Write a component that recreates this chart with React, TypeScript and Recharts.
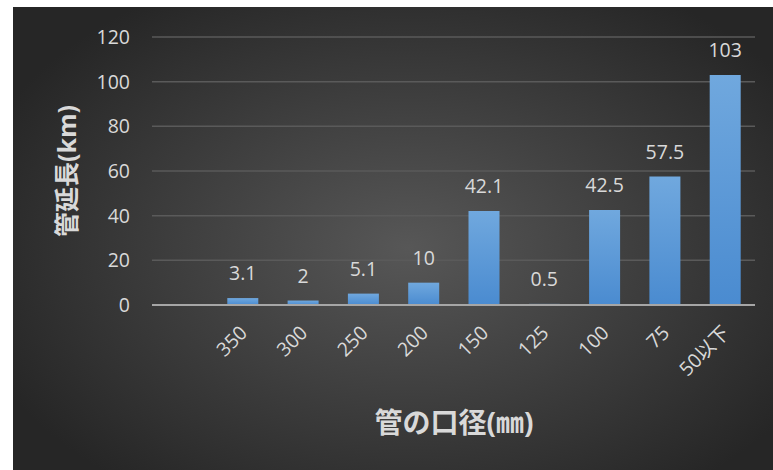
import { Bar, BarChart, CartesianGrid, XAxis, YAxis, LabelList } from 'recharts'

// 口径別の管延長
const diameters = ['', '350', '300', '250', '200', '150', '125', '100', '75', '50以下']
const lengths: (number | null)[] = [null, 3.1, 2, 5.1, 10, 42.1, 0.5, 42.5, 57.5, 103]
const yTicks = [0, 20, 40, 60, 80, 100, 120]

const chartData = diameters.map((d, i) => ({ name: d, length: lengths[i] }))

const FONT = '"Open Sans", "Noto Sans CJK JP", sans-serif'
const TEXT = '#d9d9d9'

const XTick = ({ x, y, payload }: any) => (
  <text
    x={x + 6}
    y={y + 21}
    transform={`rotate(-45 ${x + 6} ${y + 21})`}
    textAnchor="end"
    fill={TEXT}
    fontSize={19.5}
    fontFamily={FONT}
  >
    {payload.value}
  </text>
)

const YTick = ({ x, y, payload }: any) => (
  <text x={x - 14} y={y} dy={7} textAnchor="end" fill={TEXT} fontSize={19.5} fontFamily={FONT}>
    {payload.value}
  </text>
)

export default function App() {
  return (
    <div
      style={{
        position: 'absolute',
        left: 13,
        top: 7,
        width: 760,
        height: 463,
        background: 'radial-gradient(ellipse 60% 65% at 52% 52%, #575757 0%, #3c3c3c 55%, #262626 100%)',
      }}
    >
      <BarChart
        width={760}
        height={463}
        data={chartData}
        margin={{ top: 30, right: 18, left: 0, bottom: 0 }}
        barCategoryGap={0}
      >
        <defs>
          <linearGradient id="barFill" x1="0" y1="0" x2="0" y2="1">
            <stop offset="0%" stopColor="#70a8de" />
            <stop offset="100%" stopColor="#4a8bd0" />
          </linearGradient>
        </defs>
        <CartesianGrid vertical={false} stroke="#5a5a5a" strokeWidth={1.5} />
        <XAxis
          dataKey="name"
          height={165}
          interval={0}
          tickLine={false}
          axisLine={{ stroke: '#a6a6a6', strokeWidth: 2 }}
          tick={<XTick />}
        />
        <YAxis
          width={139}
          domain={[0, 120]}
          ticks={yTicks}
          tickLine={false}
          axisLine={false}
          tick={<YTick />}
        />
        <Bar dataKey="length" fill="url(#barFill)" barSize={31} isAnimationActive={false}>
          <LabelList
            dataKey="length"
            position="top"
            offset={18}
            fill={TEXT}
            fontSize={19.5}
            fontFamily={FONT}
          />
        </Bar>
        <text
          x={53}
          y={164}
          transform="rotate(-90 53 164)"
          textAnchor="middle"
          dominantBaseline="central"
          fill={TEXT}
          fontSize={25}
          fontWeight="bold"
          fontFamily={FONT}
        >
          管延長(km)
        </text>
        <text
          x={441}
          y={415}
          textAnchor="middle"
          dominantBaseline="central"
          fill={TEXT}
          fontSize={28}
          fontWeight="bold"
          fontFamily={FONT}
        >
          管の口径(㎜)
        </text>
      </BarChart>
    </div>
  )
}
